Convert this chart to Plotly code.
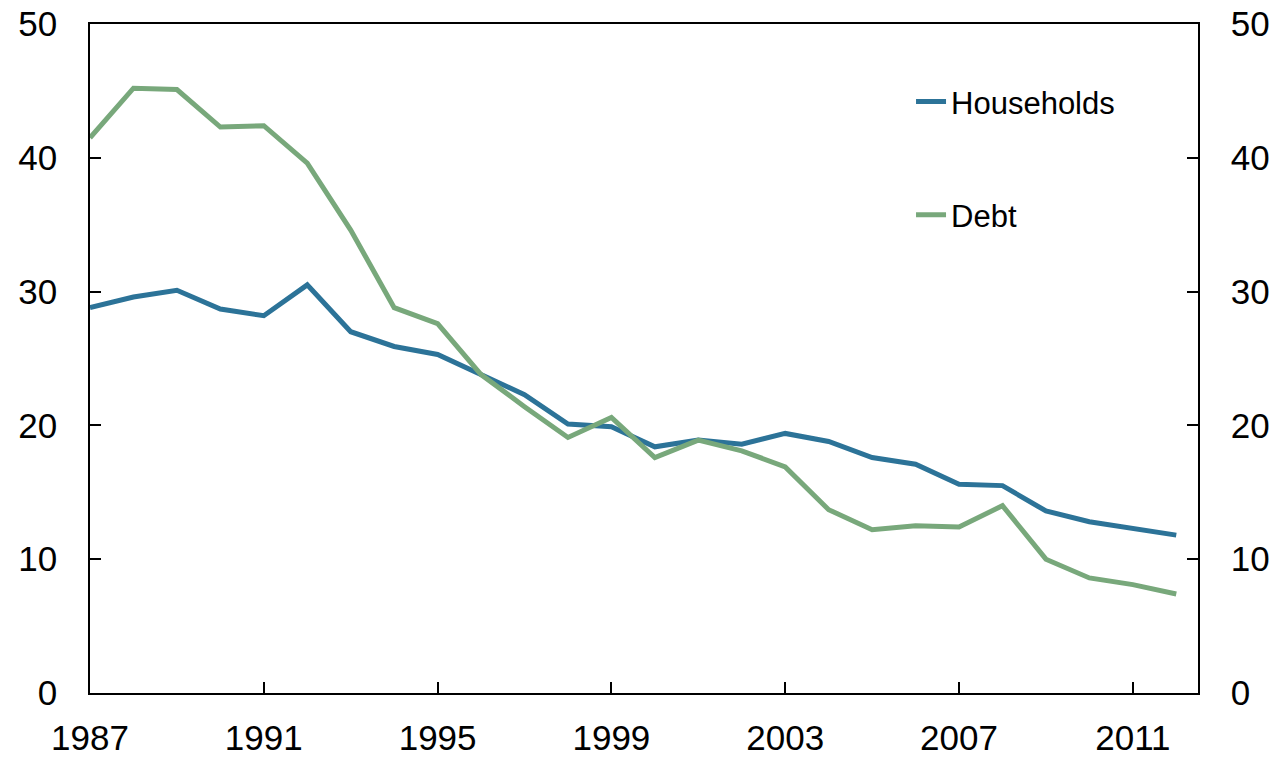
import plotly.graph_objects as go

years = list(range(1987, 2013))
households = [28.8, 29.6, 30.1, 28.7, 28.2, 30.5, 27.0, 25.9, 25.3, 23.8, 22.3, 20.1,
              19.9, 18.4, 18.9, 18.6, 19.4, 18.8, 17.6, 17.1, 15.6, 15.5, 13.6, 12.8,
              12.3, 11.8]
debt = [41.5, 45.2, 45.1, 42.3, 42.4, 39.6, 34.6, 28.8, 27.6, 23.8, 21.4, 19.1,
        20.6, 17.6, 18.9, 18.1, 16.9, 13.7, 12.2, 12.5, 12.4, 14.0, 10.0, 8.6,
        8.1, 7.4]
xticks = [1987, 1991, 1995, 1999, 2003, 2007, 2011]
yticks = [0, 10, 20, 30, 40, 50]

BLUE = "#2c7398"
GREEN = "#78a87b"
FONT = "Liberation Sans, Arial, sans-serif"

fig = go.Figure()
fig.add_trace(go.Scatter(x=years, y=households, mode="lines", name="Households",
                         line=dict(color=BLUE, width=5), legendgroup="a"))
fig.add_trace(go.Scatter(x=years, y=debt, mode="lines", name="Debt",
                         line=dict(color=GREEN, width=5), legendgroup="b", yaxis="y2"))

axis_common = dict(showgrid=False, zeroline=False, showline=True, linecolor="black",
                   linewidth=1.5, ticks="inside", ticklen=11, tickwidth=1.5,
                   tickcolor="black", automargin=False, ticklabeloverflow="allow",
                   tickfont=dict(family=FONT, size=35, color="black"))

fig.update_layout(
    width=1279, height=759, autosize=False,
    margin=dict(l=90, r=81, t=24, b=66),
    plot_bgcolor="white", paper_bgcolor="white",
    xaxis=dict(range=[1987, 2012.5], tickvals=xticks, mirror=True,
               ticklabelstandoff=13, **axis_common),
    yaxis=dict(range=[0, 50], tickvals=yticks, side="left", ticklabelstandoff=24,
               **axis_common),
    yaxis2=dict(range=[0, 50], tickvals=yticks, side="right", overlaying="y",
                ticklabelstandoff=24, **axis_common),
    legend=dict(x=0.741, y=0.924, xanchor="left", yanchor="top",
                font=dict(family=FONT, size=31, color="black"),
                tracegroupgap=70, bgcolor="rgba(0,0,0,0)"),
    showlegend=True,
)

fig.write_html("out.html", config={"displayModeBar": False},
               post_script="document.body.style.margin='0';")
